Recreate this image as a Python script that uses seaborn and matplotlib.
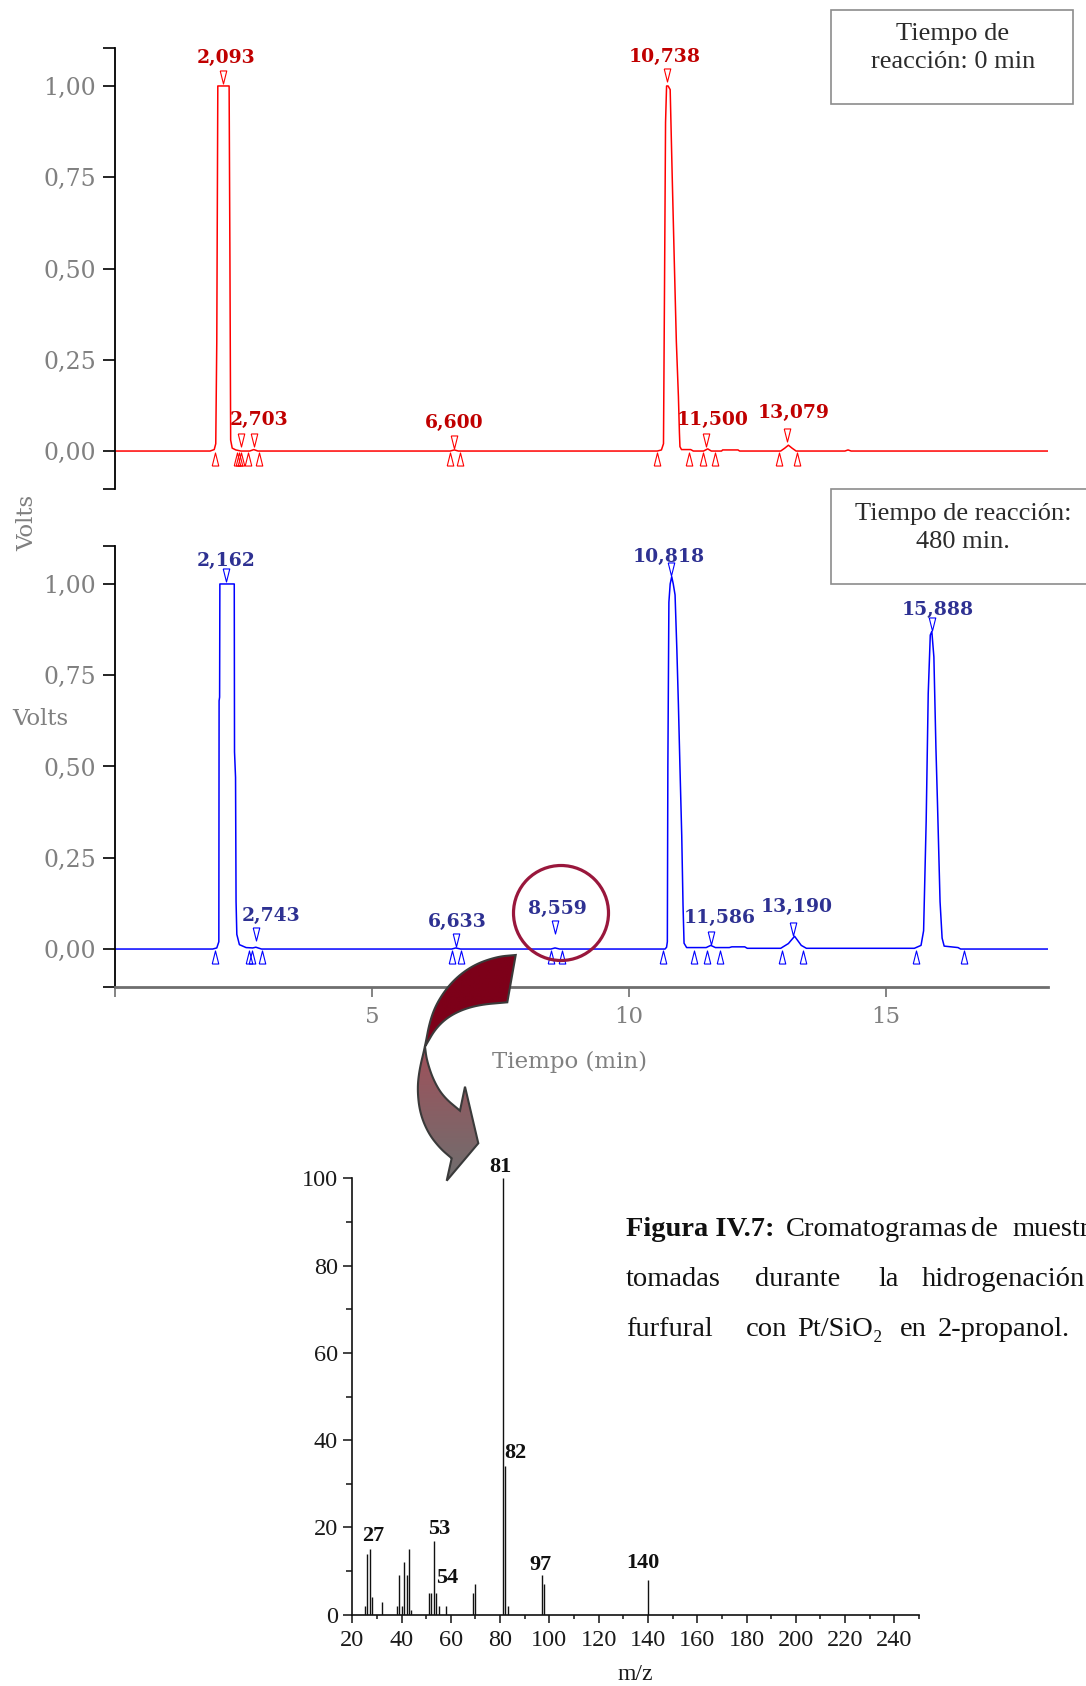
import numpy as np
import pandas as pd
import matplotlib
matplotlib.use("Agg")
import matplotlib.pyplot as plt
import seaborn as sns
from matplotlib.patches import Rectangle, Circle, Polygon

# ---------------- data ----------------
# chromatogram, reaction time 0 min (trace vertices: minutes, volts)
t0_time = [0.00, 1.85, 1.93, 1.96, 1.98, 2.00, 2.22, 2.235, 2.25, 2.28, 2.35, 2.45, 2.62, 2.70,
           2.78, 6.52, 6.60, 6.68, 10.55, 10.63, 10.67, 10.69, 10.71, 10.73, 10.76, 10.80, 10.84,
           10.88, 10.92, 10.96, 10.98, 10.99, 11.02, 11.20, 11.25, 11.45, 11.53, 11.60, 11.80,
           11.82, 12.12, 12.15, 12.95, 13.03, 13.10, 13.17, 13.25, 14.20, 14.26, 14.32, 18.15]
t0_volts = [0.000, 0.000, 0.004, 0.02, 0.30, 1.000, 1.000, 0.55, 0.03, 0.008, 0.003, 0.000, 0.000,
            0.004, 0.000, 0.000, 0.003, 0.000, 0.000, 0.003, 0.02, 0.45, 0.90, 1.000, 1.000, 0.99,
            0.75, 0.52, 0.30, 0.15, 0.05, 0.012, 0.004, 0.004, 0.000, 0.000, 0.006, 0.000, 0.000,
            0.003, 0.003, 0.000, 0.000, 0.008, 0.016, 0.008, 0.000, 0.000, 0.003, 0.000, 0.000]
t0_peak_rt = [2.093, 2.703, 6.600, 10.738, 11.500, 13.079]
t0_apex_rt = [2.093, 2.45, 2.703, 6.600, 10.738, 11.500, 13.079]
t0_apex_v = [1.025, 0.03, 0.03, 0.025, 1.03, 0.03, 0.045]
t0_bounds = [1.95, 2.37, 2.42, 2.46, 2.59, 2.80, 6.52, 6.71, 10.54, 11.17, 11.43, 11.67, 12.92, 13.27]

# chromatogram, reaction time 480 min
t480_time = [0.00, 1.90, 1.98, 2.02, 2.025, 2.035, 2.04, 2.32, 2.325, 2.345, 2.355, 2.37, 2.42,
             2.55, 2.68, 2.74, 2.85, 6.55, 6.63, 6.72, 8.48, 8.56, 8.65, 10.70, 10.73, 10.745,
             10.755, 10.775, 10.80, 10.83, 10.86, 10.895, 10.93, 10.96, 10.99, 11.025, 11.05,
             11.07, 11.12, 11.50, 11.59, 11.68, 11.95, 12.00, 12.25, 12.30, 12.95, 13.10, 13.22,
             13.35, 13.45, 15.55, 15.68, 15.73, 15.78, 15.82, 15.86, 15.89, 15.93, 15.97, 16.00,
             16.05, 16.09, 16.13, 16.40, 16.45, 18.15]
t480_volts = [0.000, 0.000, 0.003, 0.02, 0.68, 0.69, 1.000, 1.000, 0.54, 0.47, 0.13, 0.04, 0.012,
              0.004, 0.003, 0.005, 0.000, 0.000, 0.003, 0.000, 0.000, 0.003, 0.000, 0.000, 0.005,
              0.02, 0.50, 0.95, 1.00, 1.02, 1.00, 0.97, 0.82, 0.67, 0.50, 0.31, 0.12, 0.016, 0.004,
              0.004, 0.010, 0.004, 0.004, 0.006, 0.006, 0.002, 0.002, 0.015, 0.035, 0.010, 0.002,
              0.002, 0.010, 0.05, 0.35, 0.70, 0.86, 0.87, 0.80, 0.55, 0.40, 0.13, 0.03, 0.008,
              0.004, 0.000, 0.000]
t480_peak_rt = [2.162, 2.743, 6.633, 8.559, 10.818, 11.586, 13.190, 15.888]
t480_apex_rt = [2.162, 2.743, 6.633, 8.559, 10.818, 11.586, 13.190, 15.888]
t480_apex_v = [1.025, 0.04, 0.025, 0.06, 1.04, 0.03, 0.055, 0.89]
t480_bounds = [1.955, 2.60, 2.66, 2.86, 6.56, 6.74, 8.48, 8.69, 10.67, 11.27, 11.51, 11.76,
               12.98, 13.39, 15.58, 16.52]

# mass spectrum of the 8,559 min peak
ms_mz = [25, 26, 27, 28, 32, 38, 39, 40, 41, 42, 43, 44, 51, 52, 53, 54, 55, 58, 69, 70,
         81, 82, 83, 97, 98, 140]
ms_abund = [2, 14, 15, 4, 3, 2, 9, 2, 12, 9, 15, 1, 5, 5, 17, 5, 2, 2, 5, 7,
            100, 34, 2, 9, 7, 8]
ms_labeled = [27, 53, 54, 81, 82, 97, 140]

ytick_vals = [0.00, 0.25, 0.50, 0.75, 1.00]
xtick_vals = [0, 5, 10, 15]

# ---------------- layout ----------------
FIG_W, FIG_H = 1086, 1686
YLIM = (-0.104, 1.104)
XLIM = (0, 18.15)

# label placement (x shift in minutes, label centre in volts)
t0_lbl_dx = [0.06, 0.09, 0.0, -0.05, 0.13, 0.12]
t0_lbl_y = [1.076, 0.085, 0.076, 1.08, 0.085, 0.103]
t480_lbl_dx = [0.0, 0.29, 0.02, 0.05, -0.05, 0.18, 0.08, 0.11]
t480_lbl_y = [1.064, 0.091, 0.075, 0.109, 1.073, 0.084, 0.114, 0.93]
ms_lbl_off = {27: (2.3, 9.5), 53: (3.9, 8.0), 54: (8.0, 10.5), 81: (-1.4, 8.4),
              82: (7.6, 9.4), 97: (-1.2, 7.5), 140: (-3.6, 11.9)}

RED, RED_TXT = "#ff0000", "#c00000"
BLUE, BLUE_TXT = "#0000ff", "#2e3192"
GRAY = "#808080"
SERIF = ["DejaVu Serif"]
BOOK = ["Liberation Serif", "DejaVu Serif"]

sns.set_theme(style="white")
plt.rcParams["font.family"] = SERIF


def frac(l, t, r, b):
    return [l / FIG_W, 1 - b / FIG_H, (r - l) / FIG_W, (b - t) / FIG_H]


def fmt(v):
    return f"{v:.3f}".replace(".", ",")


fig = plt.figure(figsize=(FIG_W / 100, FIG_H / 100), dpi=100)
fig.patch.set_facecolor("white")

ax_top = fig.add_axes(frac(115, 48, 1048, 489))
ax_bot = fig.add_axes(frac(115, 546, 1048, 987))
ax_ms = fig.add_axes(frac(352.3, 1178.3, 919, 1614.7))

down_tri = [(-0.5, 1), (0.5, 1), (0, -1), (-0.5, 1)]
up_tri = [(-0.5, -1), (0.5, -1), (0, 1), (-0.5, -1)]


def chromatogram(ax, t, v, apex_rt, apex_v, bounds, peak_rt, lbl_dx, lbl_y, col, txtcol):
    df = pd.DataFrame({"t": t, "v": v})
    sns.lineplot(data=df, x="t", y="v", ax=ax, color=col, lw=1.1, sort=False,
                 estimator=None)
    ax.plot(apex_rt, apex_v, ls="none", marker=down_tri, ms=9.4, mfc="none",
            mec=col, mew=0.8)
    ax.plot(bounds, [-0.022] * len(bounds), ls="none", marker=up_tri, ms=9.4,
            mfc="none", mec=col, mew=0.8)
    for rt, dx, ly in zip(peak_rt, lbl_dx, lbl_y):
        ax.text(rt + dx, ly, fmt(rt), ha="center", va="center", color=txtcol,
                fontsize=13.5, fontweight="bold", family=SERIF)
    ax.set_xlim(*XLIM)
    ax.set_ylim(*YLIM)
    ax.set_xlabel("")
    ax.set_ylabel("")
    ax.set_facecolor("none")
    for s in ("top", "right"):
        ax.spines[s].set_visible(False)
    ax.spines["left"].set_color("black")
    ax.spines["left"].set_linewidth(1.3)
    ax.set_yticks(ytick_vals)
    ax.set_yticklabels([f"{y:.2f}".replace(".", ",") for y in ytick_vals])
    ax.set_yticks(list(YLIM), minor=True)
    ax.tick_params(axis="y", which="both", direction="out", length=8.6, width=1.2,
                   color="black", labelcolor=GRAY, labelsize=17, pad=5, left=True)


chromatogram(ax_top, t0_time, t0_volts, t0_apex_rt, t0_apex_v, t0_bounds, t0_peak_rt,
             t0_lbl_dx, t0_lbl_y, RED, RED_TXT)
chromatogram(ax_bot, t480_time, t480_volts, t480_apex_rt, t480_apex_v, t480_bounds,
             t480_peak_rt, t480_lbl_dx, t480_lbl_y, BLUE, BLUE_TXT)

ax_top.spines["bottom"].set_visible(False)
ax_top.tick_params(axis="x", bottom=False, labelbottom=False)

ax_bot.spines["bottom"].set_color("#6e6e6e")
ax_bot.spines["bottom"].set_linewidth(2)
ax_bot.set_xticks(xtick_vals)
ax_bot.set_xticklabels(["" if x == 0 else str(x) for x in xtick_vals])
ax_bot.tick_params(axis="x", direction="out", length=7.2, width=1.2, color="#6e6e6e",
                   labelcolor=GRAY, labelsize=16.5, pad=6.5, bottom=True)

# ---------------- mass spectrum ----------------
ax_ms.vlines(ms_mz, 0, ms_abund, color="#111111", lw=1.0)
for mz in ms_labeled:
    ab = ms_abund[ms_mz.index(mz)]
    ax_ms.annotate(str(mz), (mz, ab), xytext=ms_lbl_off[mz], textcoords="offset points",
                   ha="center", va="center", fontsize=16, fontweight="bold",
                   family=BOOK, color="#111111", annotation_clip=False)
ax_ms.set_xlim(20, 250)
ax_ms.set_ylim(0, 100)
ax_ms.set_facecolor("none")
for s in ("top", "right"):
    ax_ms.spines[s].set_visible(False)
for s in ("left", "bottom"):
    ax_ms.spines[s].set_color("#111111")
    ax_ms.spines[s].set_linewidth(1.2)
ax_ms.set_xticks(range(20, 241, 20))
ax_ms.set_xticks(range(30, 251, 20), minor=True)
ax_ms.set_yticks(range(0, 101, 20))
ax_ms.set_yticks(range(10, 100, 20), minor=True)
ax_ms.tick_params(axis="x", which="major", direction="out", length=5.5, width=1.1,
                  color="#111111", labelsize=17.5, labelcolor="#1a1a1a", pad=5.5, bottom=True)
ax_ms.tick_params(axis="x", which="minor", direction="out", length=3.2, width=1.1,
                  color="#111111", bottom=True)
ax_ms.tick_params(axis="y", which="major", direction="out", length=6.5, width=1.1,
                  color="#111111", labelsize=17.5, labelcolor="#1a1a1a", pad=4, left=True)
ax_ms.tick_params(axis="y", which="minor", direction="out", length=4.3, width=1.1,
                  color="#111111", left=True)
for lab in ax_ms.get_xticklabels() + ax_ms.get_yticklabels():
    lab.set_family(BOOK)

# ---------------- overlay: labels, boxes, highlight and arrow ----------------
ov = fig.add_axes([0, 0, 1, 1])
ov.set_facecolor("none")
ov.axis("off")

ov.text(27, 523, "Volts", rotation=90, ha="center", va="center", color=GRAY, fontsize=16.5)
ov.text(40, 719, "Volts", ha="center", va="center", color=GRAY, fontsize=16.5)
ov.text(569, 1062, "Tiempo (min)", ha="center", va="center", color=GRAY, fontsize=16.5)
ov.text(635, 1675, "m/z", ha="center", va="center", color="#1a1a1a", fontsize=17,
        family=BOOK)

box_kw = dict(ha="center", va="center", fontsize=19, color="#2b2b2b", family=BOOK)
ov.add_patch(Rectangle((831, 10), 242, 94, facecolor="white", edgecolor="#8c8c8c", lw=1.2))
ov.text(953, 34, "Tiempo de", **box_kw)
ov.text(953, 62, "reacción: 0 min", **box_kw)
ov.add_patch(Rectangle((831, 489), 262, 95, facecolor="white", edgecolor="#8c8c8c", lw=1.2))
ov.text(963, 514, "Tiempo de reacción:", **box_kw)
ov.text(963, 542, "480 min.", **box_kw)

ov.add_patch(Circle((561, 913), 47.5, fill=False, edgecolor="#99173c", lw=2.3))


def chaikin(pts, n=3):
    pts = np.asarray(pts, float)
    for _ in range(n):
        q = 0.75 * pts[:-1] + 0.25 * pts[1:]
        r = 0.25 * pts[:-1] + 0.75 * pts[1:]
        mid = np.empty((2 * len(q), 2))
        mid[0::2], mid[1::2] = q, r
        pts = np.vstack([pts[:1], mid, pts[-1:]])
    return pts


# curved arrow outline (figure pixels): outer sweep, head, inner lower and inner upper edges
outer_edge = [(515.7, 955), (496.7, 956.7), (473.3, 965), (453.3, 980), (438.3, 1000),
              (430, 1020), (425, 1046.7), (419.3, 1070), (417.3, 1090), (420, 1113.3),
              (428.3, 1133.3), (440, 1148.3), (451.7, 1158.3)]
head = [(446.7, 1180.7), (478.3, 1143.3), (465, 1086.7)]
inner_lower = [(460, 1110.7), (443.3, 1096.7), (433.3, 1080), (426.7, 1060), (425, 1046.7)]
inner_upper = [(425, 1046.7), (436.7, 1026.7), (453.3, 1013.3), (476.7, 1005), (507.3, 1002.3)]
arrow_outline = np.vstack([chaikin(outer_edge), head, chaikin(inner_lower),
                           chaikin(inner_upper)[1:]])

body = Polygon(arrow_outline, closed=True, facecolor="none", edgecolor="none")
ov.add_patch(body)
ys = np.linspace(950, 1185, 240)
grad = np.zeros((len(ys), 2, 3))
top_c = np.array([125, 0, 25]) / 255
mid_c = np.array([160, 80, 90]) / 255
low_c = np.array([112, 110, 110]) / 255
for i, y in enumerate(ys):
    if y < 1045:
        grad[i, :] = top_c
    else:
        f = min(1.0, (y - 1045) / (1178 - 1045))
        grad[i, :] = mid_c * (1 - f) + low_c * f
im = ov.imshow(grad, extent=(410, 525, 1185, 950), origin="upper", aspect="auto",
               interpolation="bilinear")
im.set_clip_path(body)
ov.add_patch(Polygon(arrow_outline, closed=True, fill=False, edgecolor="#3a3a3a", lw=1.5,
                     joinstyle="miter"))
ov.set_xlim(0, FIG_W)
ov.set_ylim(FIG_H, 0)

cap_kw = dict(va="center", ha="left", fontsize=20.5, color="#111111", family=BOOK)
ov.text(626, 1229, "Figura IV.7:", fontweight="bold", **cap_kw)
for word, x in [("Cromatogramas", 786), ("de", 971), ("muestras", 1012)]:
    ov.text(x, 1229, word, **cap_kw)
for word, x in [("tomadas", 626), ("durante", 755), ("la", 878), ("hidrogenación", 922)]:
    ov.text(x, 1279, word, **cap_kw)
for word, x in [("furfural", 626), ("con", 746), ("Pt/SiO\u2082", 797), ("en", 900),
                ("2-propanol.", 938)]:
    ov.text(x, 1330, word, **cap_kw)

fig.savefig("out.png", dpi=100, facecolor="white")
